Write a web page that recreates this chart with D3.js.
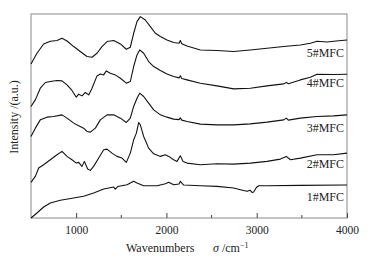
<!DOCTYPE html>
<html>
<head>
<meta charset="utf-8">
<script src="https://cdn.jsdelivr.net/npm/d3@7"></script>
<style>
  body { margin: 0; background: #fff; }
  text { font-family: "Liberation Serif", "Times New Roman", serif; fill: #222; }
</style>
</head>
<body>
<div id="chart"></div>
<script>
// wavenumber / intensity pairs (intensity in arbitrary units)
const mfc1 = [[500,0],[566,5],[640,11],[714,15],[825,17.7],[973,20],[1083,21.7],[1194,25],[1305,29],[1416,31],[1434,29],[1460,31.5],[1564,33.3],[1637,36.7],[1674,35],[1748,32.3],[1896,32.3],[1988,34.3],[2025,35.7],[2080,33.3],[2140,34],[2154,36.7],[2191,33],[2376,32.3],[2560,31.7],[2745,30],[2819,28.3],[2893,26.7],[2929,27.7],[2950,25.5],[2966,26],[2996,30.5],[3022,32.3],[3114,32.3],[3483,32.7],[4000,33]];
const mfc2 = [[500,35.7],[548,41.7],[585,50],[640,53.3],[714,58.3],[788,63.3],[843,66.7],[899,61.7],[954,58.3],[1002,55],[1028,55.7],[1065,51.7],[1091,56.7],[1128,49],[1157,47.7],[1194,51.7],[1250,60],[1305,68.3],[1342,69],[1397,65],[1453,61.7],[1508,60],[1556,55.7],[1600,65],[1637,78.3],[1667,85],[1693,95.7],[1711,93.3],[1748,81.7],[1803,70],[1859,64.3],[1933,61.7],[1988,63.3],[2025,61.7],[2080,58.3],[2117,56.7],[2154,62.3],[2184,56.7],[2228,55],[2376,53.3],[2560,54.3],[2745,54],[2929,55],[3114,56.7],[3262,59],[3328,61.7],[3373,58.3],[3483,60],[3668,63.3],[3852,63.3],[4000,65]];
const mfc3 = [[500,81.7],[548,90],[603,98.3],[677,101],[751,101.7],[843,103.3],[899,100],[973,95],[1028,92.3],[1083,90],[1120,86.7],[1157,86],[1213,90],[1268,98.3],[1342,103.3],[1416,103.3],[1490,100],[1556,95.7],[1600,100],[1637,111.7],[1674,120],[1704,125],[1748,121.7],[1803,115],[1859,108.3],[1933,103.3],[2006,101],[2080,99],[2140,98.5],[2154,100.3],[2170,98],[2228,96.7],[2376,94],[2560,93.3],[2745,93.3],[2929,94.3],[3114,96],[3299,98.3],[3328,100],[3350,98],[3483,100],[3668,101.7],[3852,102.3],[4000,103.3]];
const mfc4 = [[500,111.7],[548,118.3],[603,130],[659,135.7],[714,136.7],[788,137.7],[843,137.3],[899,133.3],[954,127.7],[1002,121],[1028,124],[1065,122.3],[1102,125.7],[1139,123.3],[1176,130],[1231,142.3],[1268,144.3],[1305,143.3],[1334,147.3],[1379,145],[1434,143.3],[1490,140],[1556,135],[1600,136.7],[1637,151.7],[1674,163.3],[1704,168.3],[1748,165],[1803,156.7],[1859,151.7],[1933,147.7],[2006,144.3],[2080,141.7],[2140,140.3],[2154,142.5],[2170,139.7],[2228,138.3],[2376,135],[2560,132.3],[2745,129.3],[2929,130],[3114,132.3],[3299,134.3],[3328,135.8],[3350,134.5],[3483,138.3],[3594,141],[3668,144],[3852,143.7],[4000,144]];
const mfc5 = [[500,154.3],[566,165],[640,174.3],[714,177],[788,177.7],[843,180],[899,177.3],[973,171.7],[1046,166.7],[1120,161.7],[1176,161],[1231,165],[1286,171.7],[1342,176.7],[1416,177.7],[1490,174.3],[1556,169],[1600,171],[1637,185],[1674,196.7],[1711,201.7],[1766,198.3],[1822,191.7],[1877,185],[1933,181.7],[2006,178.3],[2080,175.7],[2140,175],[2154,177.7],[2170,174.5],[2228,172.3],[2376,168.3],[2560,167.7],[2745,166.7],[2929,168.3],[3114,170],[3299,171.7],[3483,173.3],[3594,175],[3668,177],[3779,176.3],[3852,177],[4000,178.3]];

const seriesNames = ["1#MFC", "2#MFC", "3#MFC", "4#MFC", "5#MFC"];
const seriesData = [mfc1, mfc2, mfc3, mfc4, mfc5];
const labelLevels = [21.5, 54, 90.5, 135, 165.5];

const xTicks = [1000, 2000, 3000, 4000];
const xMinorTicks = [1500, 2500, 3500];

const width = 371;
const height = 258;
const margin = { top: 14, right: 24, bottom: 40, left: 31 };

const x = d3.scaleLinear().domain([500, 4000]).range([margin.left, width - margin.right]);
const y = d3.scaleLinear().domain([0, 204.3]).range([height - margin.bottom, margin.top]);

const svg = d3.select("#chart")
    .append("svg")
    .attr("width", width)
    .attr("height", height);

// frame
svg.append("rect")
    .attr("x", margin.left)
    .attr("y", margin.top)
    .attr("width", width - margin.left - margin.right)
    .attr("height", height - margin.top - margin.bottom)
    .attr("fill", "none")
    .attr("stroke", "#8a8a8a")
    .attr("stroke-width", 1);

// bottom axis, ticks pointing inward
const xAxis = svg.append("g")
    .attr("transform", `translate(0,${height - margin.bottom})`)
    .call(d3.axisBottom(x).tickValues(xTicks).tickSize(-5).tickPadding(8).tickFormat(d3.format("d")));
xAxis.select(".domain").remove();
xAxis.selectAll(".tick line").attr("stroke", "#444");
xAxis.selectAll(".tick text")
    .attr("font-size", 11.5)
    .attr("font-family", "Liberation Serif, serif")
    .attr("fill", "#222");

svg.append("g")
    .selectAll("line")
    .data(xMinorTicks)
    .enter()
    .append("line")
    .attr("x1", d => x(d))
    .attr("x2", d => x(d))
    .attr("y1", height - margin.bottom)
    .attr("y2", height - margin.bottom - 3)
    .attr("stroke", "#444");

// spectra
const line = d3.line()
    .x(d => x(d[0]))
    .y(d => y(d[1]));

svg.selectAll("path.spec")
    .data(seriesData)
    .enter()
    .append("path")
    .attr("class", "spec")
    .attr("d", line)
    .attr("fill", "none")
    .attr("stroke", "#111")
    .attr("stroke-width", 1.1)
    .attr("stroke-linejoin", "round");

// series labels
seriesNames.forEach((name, i) => {
    svg.append("text")
        .attr("x", x(4000) - 3)
        .attr("y", y(labelLevels[i]))
        .attr("dy", "0.35em")
        .attr("text-anchor", "end")
        .attr("font-size", 12)
        .text(name);
});

// axis titles
const xt = svg.append("text")
    .attr("x", 126)
    .attr("y", 252)
    .attr("font-size", 12);
xt.append("tspan").text("Wavenumbers");
xt.append("tspan").attr("x", 213).attr("font-style", "italic").text("σ");
xt.append("tspan").text(" /cm");
xt.append("tspan").attr("dy", -4).attr("font-size", 8).text("−1");

svg.append("text")
    .attr("text-anchor", "middle")
    .attr("transform", "rotate(-90)")
    .attr("x", -117)
    .attr("y", 18)
    .attr("font-size", 12)
    .text("Intensity /(a.u.)");
</script>
</body>
</html>
